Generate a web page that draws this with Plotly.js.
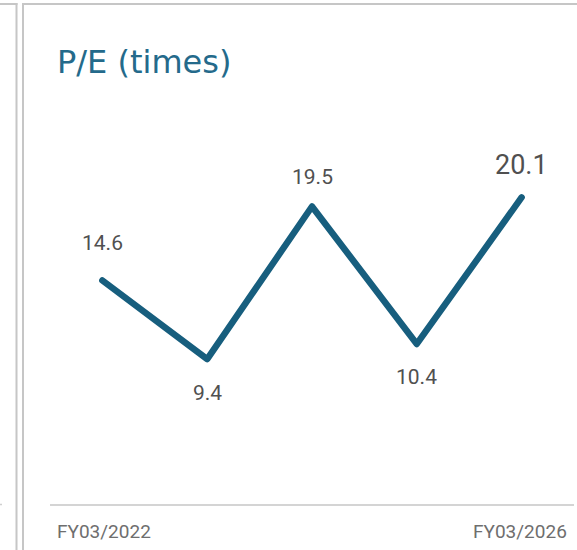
<!DOCTYPE html>
<html>
<head>
<meta charset="utf-8">
<script src="https://cdn.plot.ly/plotly-3.0.1.min.js"></script>
<style>
html,body{margin:0;padding:0;background:#fff;}
#chart{width:577px;height:550px;}
.scatterlayer .js-line{stroke-linecap:round;stroke-linejoin:round;}
</style>
</head>
<body>
<div id="chart"></div>
<script>
// ---- data ----
const categories = ["FY03/2022", "FY03/2023", "FY03/2024", "FY03/2025", "FY03/2026"];
const peValues = [14.6, 9.4, 19.5, 10.4, 20.1];
const valueLabels = ["14.6", "9.4", "19.5", "10.4", "20.1"];
const edgeTickLabels = ["FY03/2022", "FY03/2026"];
const chartTitle = "P/E (times)";

// ---- layout helpers (styling only) ----
const W = 577, H = 550;
const M = {l: 50, r: 3, t: 100, b: 46};
const PW = W - M.l - M.r, PH = H - M.t - M.b;
const px = v => (v - M.l) / PW;           // pixel x -> paper x
const py = v => (H - M.b - v) / PH;       // pixel y -> paper y
const labelShift = [38, -34, 30, -33, 32];
const labelSize = [21, 21, 21, 21, 27];
const borderColor = "#c6c6c6";

const trace = {
  type: "scatter",
  mode: "lines",
  x: categories,
  y: peValues,
  line: {color: "#175e7e", width: 6.5},
  hoverinfo: "skip"
};

const annotations = peValues.map((v, i) => ({
  xref: "x", yref: "y",
  x: categories[i], y: v,
  text: valueLabels[i],
  showarrow: false,
  xanchor: "center", yanchor: "middle",
  yshift: labelShift[i],
  font: {family: "Roboto, Arial, sans-serif", size: labelSize[i], color: "#505050"}
}));
annotations.push({
  xref: "paper", yref: "paper", x: px(55), y: py(531.5),
  xanchor: "left", yanchor: "middle", showarrow: false,
  text: edgeTickLabels[0],
  font: {family: "Roboto, Arial, sans-serif", size: 19, color: "#6e6e6e"}
});
annotations.push({
  xref: "paper", yref: "paper", x: px(568.5), y: py(531.5),
  xanchor: "right", yanchor: "middle", showarrow: false,
  text: edgeTickLabels[1],
  font: {family: "Roboto, Arial, sans-serif", size: 19, color: "#6e6e6e"}
});

const line = (x0, y0, x1, y1, w, c) => ({
  type: "line", xref: "paper", yref: "paper",
  x0: px(x0), y0: py(y0), x1: px(x1), y1: py(y1),
  line: {color: c || borderColor, width: w || 2}
});

const shapes = [
  line(16.5, 3, 16.5, 550, 2),   // left panel right edge
  line(0, 4, 17.5, 4, 2),        // left panel top
  line(23, 3, 23, 550, 2),       // right panel left edge
  line(22, 4, 577, 4, 2),        // right panel top
  line(0, 504.5, 2, 504.5, 1.5, "#d0d0d0")  // neighbouring axis stub
];

const layout = {
  width: W, height: H,
  margin: M,
  paper_bgcolor: "#fff", plot_bgcolor: "#fff",
  showlegend: false,
  title: {
    text: chartTitle,
    xref: "container", yref: "container",
    x: 57 / W, xanchor: "left",
    y: 1 - 51 / H, yanchor: "top",
    font: {family: "DejaVu Sans, Verdana, sans-serif", size: 32, color: "#246a8b"}
  },
  xaxis: {
    type: "category",
    range: [-0.5, 4.5],
    showgrid: false, zeroline: false,
    showline: true, linecolor: "#d4d4d4", linewidth: 2,
    ticks: "", showticklabels: false,
    fixedrange: true
  },
  yaxis: {
    range: [-0.2, -0.2 + PH / 15.1],
    showgrid: false, zeroline: false, showline: false,
    ticks: "", showticklabels: false,
    fixedrange: true
  },
  annotations: annotations,
  shapes: shapes
};

Plotly.newPlot("chart", [trace], layout, {displayModeBar: false, staticPlot: true});
</script>
</body>
</html>
